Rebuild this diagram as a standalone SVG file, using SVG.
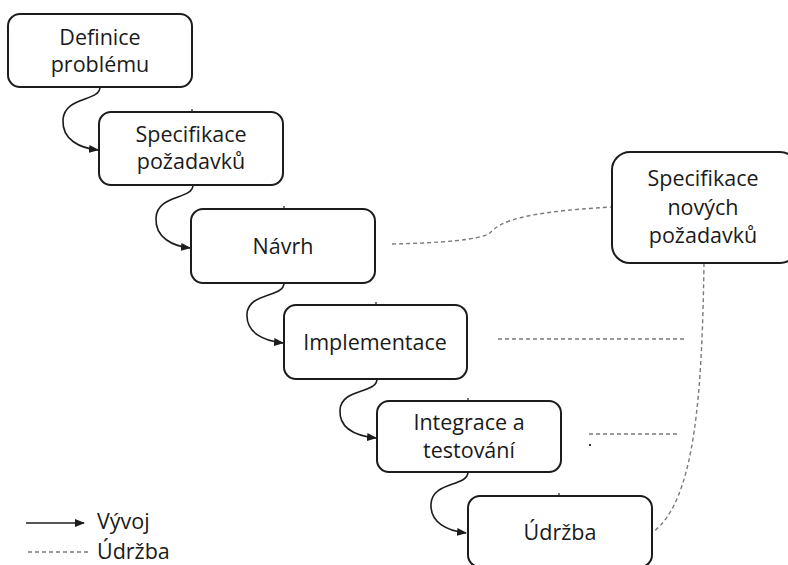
<svg xmlns="http://www.w3.org/2000/svg" width="788" height="565" viewBox="0 0 788 565">
  <style>
    .box { fill: #ffffff; stroke: #1c1c1c; stroke-width: 2; }
    .label { font-family: "Open Sans", "Liberation Sans", sans-serif; font-size: 21.5px; fill: #1a1a1a; text-anchor: middle; }
    .legend { font-family: "Open Sans", "Liberation Sans", sans-serif; font-size: 21.5px; fill: #1a1a1a; }
    .flow { fill: none; stroke: #1c1c1c; stroke-width: 1.6; marker-end: url(#arrow); }
    .maint { fill: none; stroke: #7a7a7a; stroke-width: 1.4; stroke-dasharray: 4 3; }
    .tick { stroke: #1c1c1c; stroke-width: 1.2; }
  </style>
  <defs>
    <marker id="arrow" markerWidth="10" markerHeight="8" refX="9" refY="4" orient="auto" markerUnits="userSpaceOnUse">
      <path d="M0,0 L10,4 L0,8 Z" fill="#1c1c1c"/>
    </marker>
  </defs>
  <rect width="788" height="565" fill="#ffffff"/>

  <!-- development flow and maintenance links -->
  <g id="connectors">
    <path class="flow" d="M100 87 c0 15 -36 9 -37 33 c-1 20 17 28 35 30"/>
    <path class="flow" d="M193 185 c0 15 -36 9 -37 33 c-1 20 17 28 34 30"/>
    <path class="flow" d="M284 283 c0 15 -36 9 -37 31 c-1 19 17 27 36 29"/>
    <path class="flow" d="M377 379 c0 15 -36 9 -37 31 c-1 19 17 26 36 28"/>
    <path class="flow" d="M468 472 c0 15 -36 9 -37 32 c-1 19 17 27 35 29"/>

    <path class="maint" d="M392 244 C440 243 480 240 490 233 C500 222 520 212 612 207"/>
    <path class="maint" d="M498 339 L687 339"/>
    <path class="maint" d="M589 434 L679 434"/>
    <path class="maint" d="M704 263 C702 390 696 500 653 532"/>

    <line class="tick" x1="192" y1="109" x2="192" y2="112"/>
    <line class="tick" x1="284" y1="206" x2="284" y2="209"/>
    <line class="tick" x1="376" y1="302" x2="376" y2="305"/>
    <line class="tick" x1="468" y1="398" x2="468" y2="401"/>
    <line class="tick" x1="559" y1="493" x2="559" y2="496"/>
    <rect x="589" y="444" width="2" height="2" fill="#333"/>
  </g>

  <g id="definice">
    <rect class="box" x="8" y="14" width="184" height="73" rx="12"/>
    <text class="label" x="100" y="45">Definice</text>
    <text class="label" x="100" y="72">problému</text>
  </g>

  <g id="specifikace">
    <rect class="box" x="99" y="112" width="184" height="73" rx="12"/>
    <text class="label" x="191" y="142">Specifikace</text>
    <text class="label" x="191" y="169">požadavků</text>
  </g>

  <g id="navrh">
    <rect class="box" x="191" y="209" width="184" height="74" rx="12"/>
    <text class="label" x="283" y="254">Návrh</text>
  </g>

  <g id="implementace">
    <rect class="box" x="284" y="305" width="183" height="74" rx="12"/>
    <text class="label" x="375" y="350">Implementace</text>
  </g>

  <g id="integrace">
    <rect class="box" x="377" y="401" width="184" height="71" rx="12"/>
    <text class="label" x="469" y="430">Integrace a</text>
    <text class="label" x="469" y="458">testování</text>
  </g>

  <g id="udrzba">
    <rect class="box" x="468" y="496" width="184" height="71" rx="12"/>
    <text class="label" x="560" y="540">Údržba</text>
  </g>

  <g id="nove-pozadavky">
    <rect class="box" x="612" y="152" width="186" height="111" rx="18"/>
    <text class="label" x="703" y="186">Specifikace</text>
    <text class="label" x="703" y="215">nových</text>
    <text class="label" x="703" y="243">požadavků</text>
  </g>

  <g id="legend">
    <line x1="26" y1="523" x2="84" y2="523" stroke="#1c1c1c" stroke-width="1.6" marker-end="url(#arrow)"/>
    <text class="legend" x="97" y="529">Vývoj</text>
    <line class="maint" x1="28" y1="552" x2="88" y2="552"/>
    <text class="legend" x="97" y="559">Údržba</text>
  </g>
</svg>
